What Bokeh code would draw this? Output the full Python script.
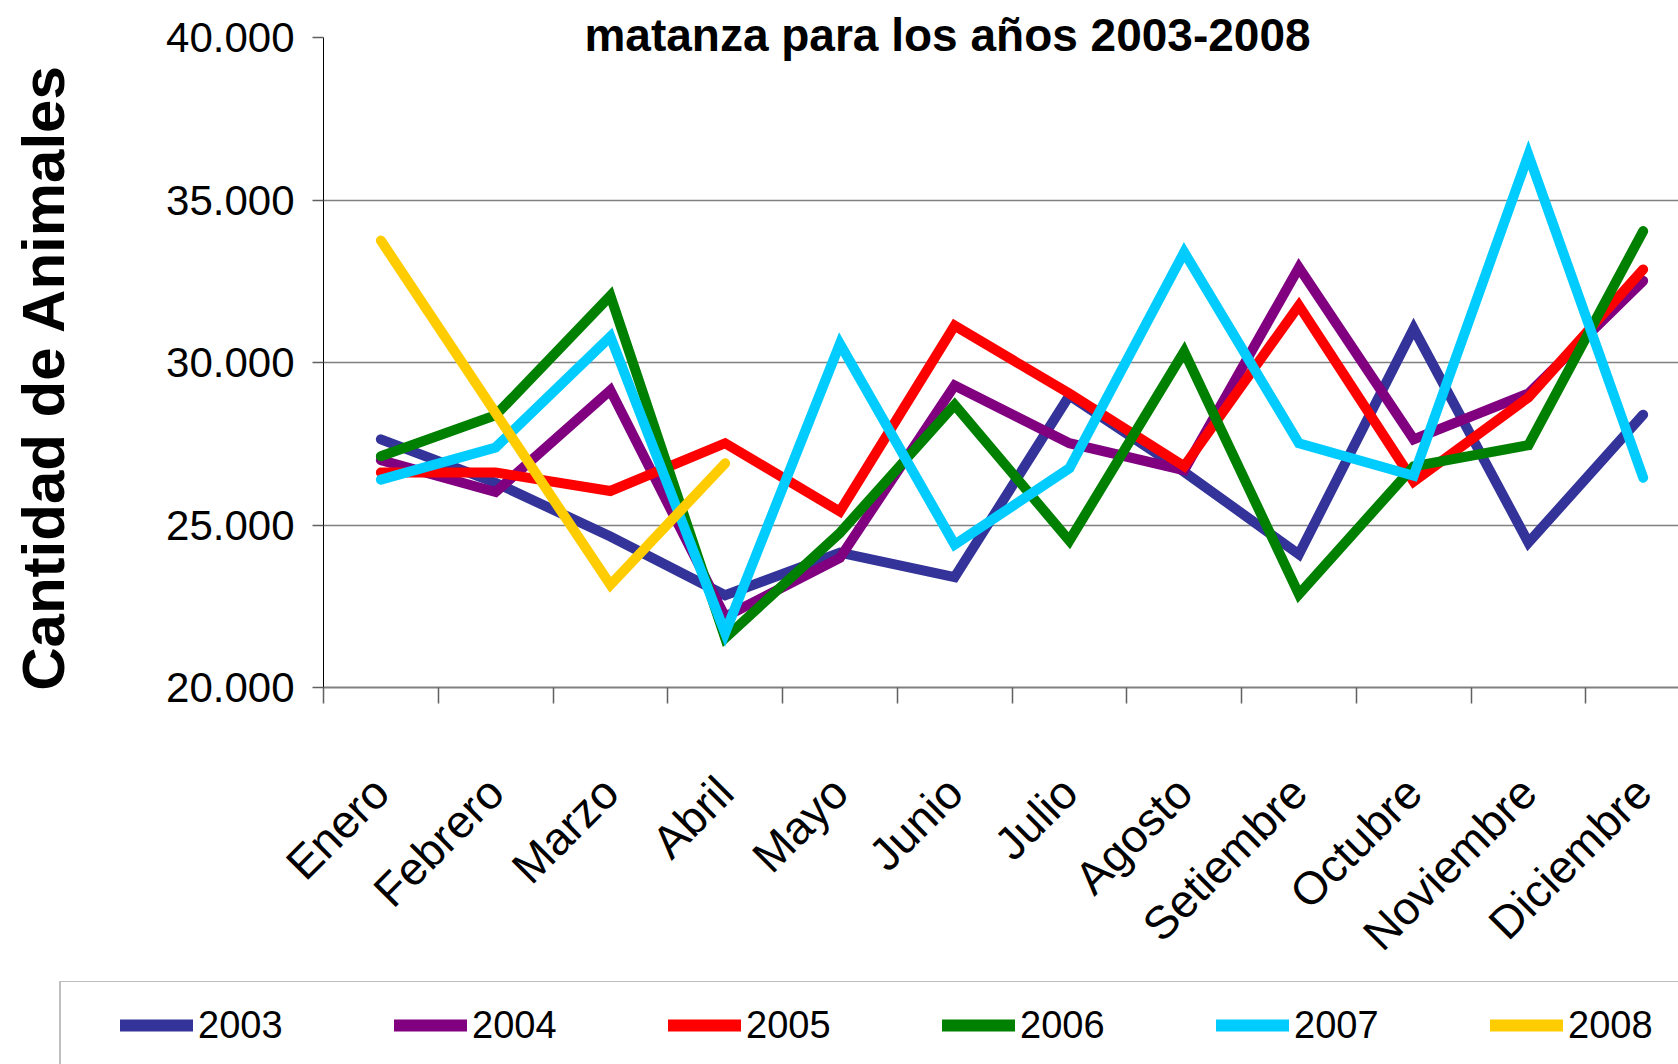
from math import pi
import numpy as np
from bokeh.plotting import figure
from bokeh.models import Range1d, FixedTicker, Legend, LegendItem, Label
from bokeh.embed import file_html
from bokeh.resources import INLINE

months = ["Enero", "Febrero", "Marzo", "Abril", "Mayo", "Junio", "Julio",
          "Agosto", "Setiembre", "Octubre", "Noviembre", "Diciembre"]
years = ["2003", "2004", "2005", "2006", "2007", "2008"]
nan = float("nan")
v2003 = [27640, 26300, 24650, 22840, 24150, 23400, 28990, 26640, 24100, 31050, 24460, 28400]
v2004 = [27000, 26020, 29150, 22180, 23990, 29300, 27520, 26690, 32930, 27640, 29050, 32520]
v2005 = [26620, 26620, 26050, 27520, 25420, 31140, 29050, 26810, 31760, 26340, 28930, 32870]
v2006 = [27120, 28380, 32060, 21520, 24760, 28700, 24520, 30340, 22870, 26810, 27460, 34050]
v2007 = [26400, 27390, 30800, 21680, 30580, 24400, 26750, 33400, 27520, 26520, 36400, 26460]
v2008 = [33760, 28450, 23160, 26900, nan, nan, nan, nan, nan, nan, nan, nan]
series = [v2003, v2004, v2005, v2006, v2007, v2008]
colors = ["#333399", "#800080", "#FF0000", "#008000", "#00CCFF", "#FFCC00"]
y_ticks = [20000, 25000, 30000, 35000, 40000]
y_tick_labels = ["20.000", "25.000", "30.000", "35.000", "40.000"]
grid_values = [25000, 30000, 35000]
title_text = "matanza para los años 2003-2008"
y_title = "Cantidad de Animales"

FONT = "Liberation Sans"

# ---------------- main chart ----------------
p = figure(width=1678, height=981, output_backend="svg", toolbar_location=None,
           title=None, x_range=Range1d(-0.5, 11.308), y_range=Range1d(20000, 41150),
           min_border_left=323, min_border_right=0, min_border_top=0, min_border_bottom=293)
p.outline_line_color = None
p.background_fill_color = "white"
p.border_fill_color = "white"

xs = np.arange(len(months))
for vals, c in zip(series, colors):
    p.line(x=xs, y=np.array(vals, dtype=float), line_color=c, line_width=10,
           line_join="miter", line_cap="round")

xa = p.xaxis[0]
xa.ticker = FixedTicker(ticks=list(range(len(months))),
                        minor_ticks=[i - 0.5 for i in range(len(months) + 1)])
xa.major_label_overrides = {i: m for i, m in enumerate(months)}
xa.major_label_orientation = pi / 4
xa.major_tick_out = 0
xa.major_tick_in = 0
xa.major_tick_line_color = None
xa.minor_tick_out = 16
xa.minor_tick_in = 0
xa.minor_tick_line_color = "#606060"
xa.minor_tick_line_width = 1.5
xa.axis_line_color = "#808080"
xa.axis_line_width = 2
xa.major_label_standoff = 81
xa.major_label_text_font = FONT
xa.major_label_text_font_size = "46px"
xa.major_label_text_color = "black"

ya = p.yaxis[0]
ya.bounds = (20000, 40000)
ya.ticker = FixedTicker(ticks=y_ticks)
ya.major_label_overrides = {t: l for t, l in zip(y_ticks, y_tick_labels)}
ya.major_tick_out = 11
ya.major_tick_in = 0
ya.minor_tick_out = 0
ya.minor_tick_in = 0
ya.major_tick_line_color = "#606060"
ya.major_tick_line_width = 1.5
ya.axis_line_color = "black"
ya.axis_line_width = 1
ya.major_label_standoff = 18
ya.major_label_text_font = FONT
ya.major_label_text_font_size = "42px"
ya.major_label_text_color = "black"
# trailing no-break spaces move the centred axis title down, as in the reference
ya.axis_label = y_title + "\u00a0" * 4
ya.axis_label_text_font = FONT
ya.axis_label_text_font_style = "bold"
ya.axis_label_text_font_size = "60px"
ya.axis_label_text_color = "black"
ya.axis_label_standoff = 86

p.xgrid.visible = False
p.ygrid.ticker = FixedTicker(ticks=grid_values)
p.ygrid.grid_line_color = "#808080"
p.ygrid.grid_line_width = 1.5

p.add_layout(Label(x=624, y=40090, x_units="screen", y_units="data", text=title_text,
                   text_font=FONT, text_font_style="bold", text_font_size="46px",
                   text_align="center", text_baseline="alphabetic", text_color="black"))

# ---------------- legend strip (separate root, not frame-aligned) ----------------
lg = figure(width=1678, height=83, output_backend="svg", toolbar_location=None,
            title=None, x_axis_type=None, y_axis_type=None,
            x_range=Range1d(0, 1), y_range=Range1d(0, 1),
            min_border_left=0, min_border_right=0, min_border_top=0, min_border_bottom=0)
lg.outline_line_color = None
lg.background_fill_color = "white"
lg.border_fill_color = "white"
keys = [lg.line(x=[nan], y=[nan], line_color=c, line_width=12, line_cap="round")
        for c in colors]

items = [LegendItem(label=yr, renderers=[r]) for yr, r in zip(years, keys)]
legend = Legend(items=items, orientation="horizontal", location=(59, -6),
                glyph_width=73, glyph_height=54, label_height=54, label_width=196,
                label_standoff=5, spacing=0, padding=16, margin=0,
                label_text_font=FONT, label_text_font_size="38px", label_text_color="black",
                border_line_color="#808080", border_line_width=2,
                background_fill_color="white", background_fill_alpha=1.0,
                title=" ", title_location="left", title_text_font_size="38px", title_standoff=0)
lg.add_layout(legend, "center")

open("out.html", "w").write(file_html([p, lg], INLINE))
